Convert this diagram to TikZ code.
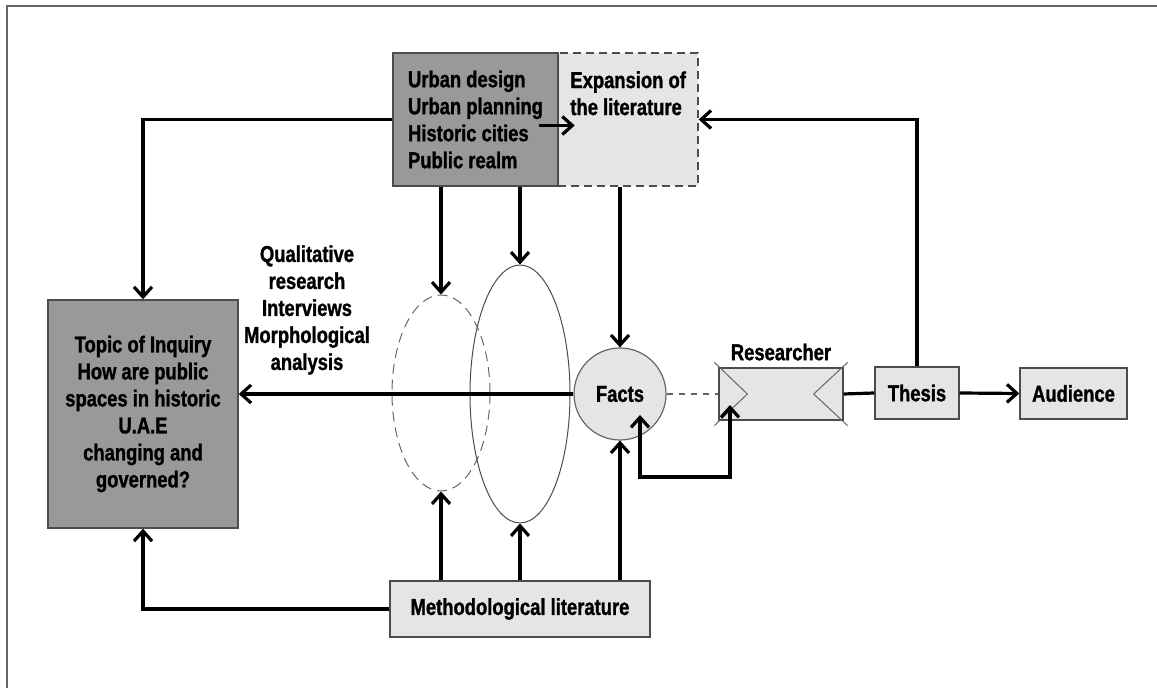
\documentclass[tikz,border=0pt]{standalone}
\usepackage{fontspec}
\setmainfont{Liberation Sans}[FakeStretch=0.8, BoldFeatures={FakeBold=1.2}]
\usetikzlibrary{arrows.meta,shapes.geometric}

\tikzset{
  box/.style={draw=black!70, line width=0.7pt, inner sep=2pt},
  darkbox/.style={box, fill=black!40},
  lightbox/.style={box, fill=black!10},
  ring/.style={ellipse, draw=black!70, line width=0.5pt, inner sep=0pt},
  link/.style={line width=1.6pt},
  barb/.tip={Straight Barb[length=5pt,width=9pt]},
  arr/.style={link, -barb}
}

\begin{document}
\begin{tikzpicture}[x=0.5pt, y=-0.5pt, line join=miter,
    font=\bfseries\fontsize{11.5}{13.5}\selectfont]
  \useasboundingbox (0,0) rectangle (1157,688);

  % ---------- frame ----------
  \draw[black!60, line width=0.6pt] (7,688) -- (7,6) -- (1157,6);

  % ---------- literature on top ----------
  \node[lightbox, dash pattern=on 4pt off 2.5pt, minimum width=70pt, minimum height=66.5pt]
    (expbox) at (628,119.5) {};
  \node[darkbox, minimum width=82.5pt, minimum height=66.5pt, align=left]
    (fields) at (475.5,119.5) {Urban design\\Urban planning\\Historic cities\\Public realm};
  \node[anchor=north west, inner sep=0pt, align=left] (exptext) at (570,71)
    {Expansion of\\the literature};

  % ---------- topic box ----------
  \node[darkbox, minimum width=95pt, minimum height=114pt, align=center] (topic) at (143,414)
    {Topic of Inquiry\\How are public\\spaces in historic\\U.A.E\hspace*{6pt}\\changing and\\governed?};

  \node[align=center] (methods) at (307,310)
    {Qualitative\\research\\Interviews\\Morphological\\analysis};

  % ---------- ellipses and facts ----------
  \node[ring, dash pattern=on 5pt off 3pt, draw=black!60, minimum width=49pt, minimum height=98pt]
    (qual) at (441,393) {};
  \node[ring, minimum width=50pt, minimum height=129pt] (morph) at (520,394) {};
  \node[circle, draw=black!60, fill=black!10, line width=0.6pt, minimum size=46pt, inner sep=0pt]
    (facts) at (620,394) {Facts};

  \node[lightbox, minimum width=130pt, minimum height=28pt] (method) at (520,609)
    {Methodological literature};

  % ---------- researcher, thesis, audience ----------
  \node[lightbox, minimum width=62pt, minimum height=26pt] (res) at (781,394) {};
  \node (reslabel) at (781,352) {Researcher};
  \draw[black!60, line width=0.5pt]
    ([xshift=-2pt,yshift=2.5pt]res.north west) -- ([xshift=14.5pt]res.west)
      -- ([xshift=-2pt,yshift=-2.5pt]res.south west)
    ([xshift=2pt,yshift=2.5pt]res.north east) -- ([xshift=-15pt]res.east)
      -- ([xshift=2pt,yshift=-2.5pt]res.south east);

  \node[lightbox, minimum width=42pt, minimum height=26pt] (thesis) at (917,393) {Thesis};
  \node[lightbox, minimum width=53.5pt, minimum height=25.5pt] (audience) at (1073.5,393.5) {Audience};

  % ---------- connectors ----------
  \draw[arr] ([xshift=-10pt,yshift=-3pt]fields.east) -- ([xshift=8pt,yshift=-3pt]fields.east);
  \draw[arr] (fields.west) -| (topic.north);
  \draw[arr] (method.west) -| (topic.south);
  \draw[arr] (facts.west) -- (facts.west -| topic.east);
  \foreach \target in {qual, morph} {
    \draw[arr] (\target.north |- fields.south) -- (\target.north);
    \draw[arr] (\target.south |- method.north) -- (\target.south);
  }
  \draw[arr] (facts.north |- expbox.south) -- (facts.north);
  \draw[arr] (facts.south |- method.north) -- (facts.south);

  \draw[dashed, black!60, line width=0.6pt] (facts.east) -- (res.west);
  \draw[link, barb-barb] ([xshift=10pt,yshift=-10.5pt]facts.center) -- ++(0,-31pt)
    -| ([xshift=-25.5pt,yshift=-5.5pt]res.center);

  \draw[link] (res.east) -- (thesis.west);
  \draw[arr] (thesis.east) -- (audience.west);
  \draw[arr] (thesis.north) |- (expbox.east);
\end{tikzpicture}
\end{document}
